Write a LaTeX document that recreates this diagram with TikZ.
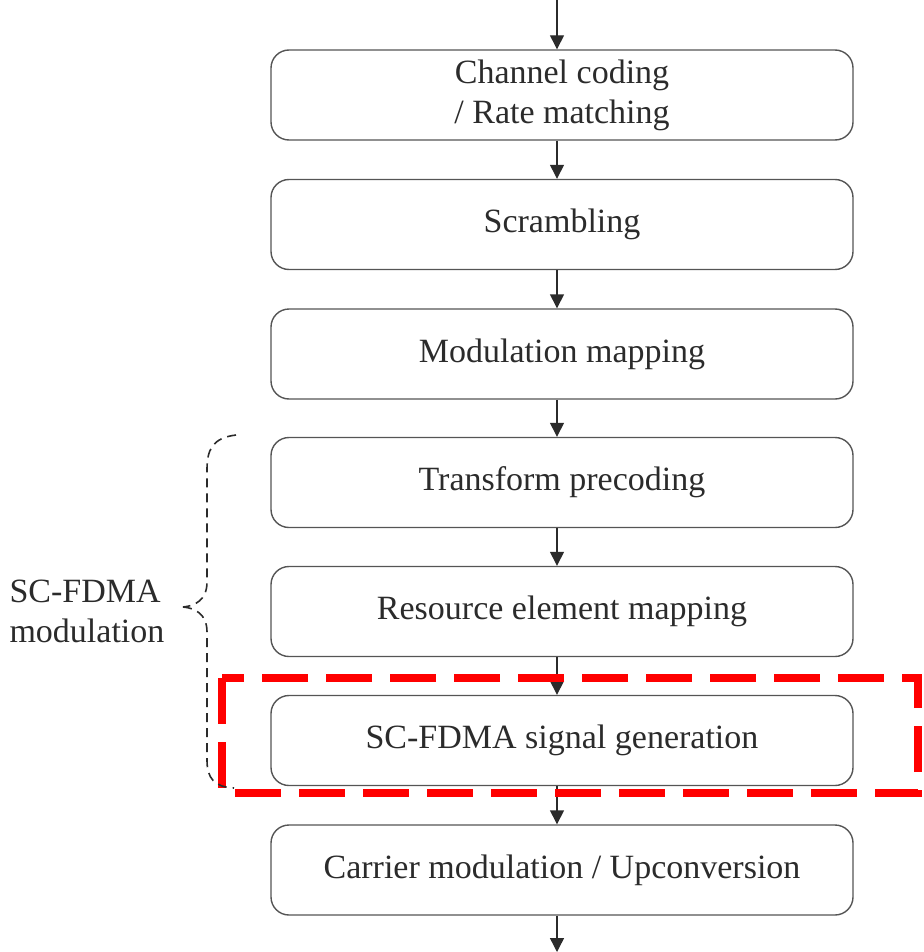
\documentclass[tikz,border=0pt]{standalone}
\usepackage{fontspec}
\setmainfont{Liberation Serif}
\usetikzlibrary{arrows.meta}
\definecolor{inkgray}{HTML}{2B2B2B}
\definecolor{framegray}{HTML}{555555}
\definecolor{hired}{HTML}{FF0000}
\begin{document}
\begin{tikzpicture}[x=1pt,y=-1pt,
  stage/.style={draw=framegray, line width=1.4pt, rounded corners=18pt,
    minimum width=582pt, minimum height=90pt, inner sep=0pt,
    align=center, text=inkgray, font=\fontsize{34}{40}\selectfont},
  flow/.style={draw=inkgray, line width=1.4pt,
    -{Triangle[length=14pt,width=14pt]}},
  brace/.style={draw=inkgray, line width=1.6pt, dash pattern=on 9pt off 6pt},
  focus/.style={draw=hired, line width=8pt, dash pattern=on 46pt off 18pt}]
\useasboundingbox (0,0) rectangle (923,952);

% processing chain
\node[stage] (s1) at (562,95)    {Channel coding\\/ Rate matching};
\node[stage] (s2) at (562,224.5) {Scrambling};
\node[stage] (s3) at (562,354)   {Modulation mapping};
\node[stage] (s4) at (562,482.5) {Transform precoding};
\node[stage] (s5) at (562,611.5) {Resource element mapping};
\node[stage] (s6) at (562,740.5) {SC-FDMA signal generation};
\node[stage] (s7) at (562,870)   {Carrier modulation / Upconversion};

% connectors along the chain
\coordinate (ax) at (557,0);
\coordinate (in)  at (557,0);
\coordinate (out) at (557,952);
\draw[flow] (in) -- (s1.north -| ax);
\draw[flow] (s1.south -| ax) -- (s2.north -| ax);
\draw[flow] (s2.south -| ax) -- (s3.north -| ax);
\draw[flow] (s3.south -| ax) -- (s4.north -| ax);
\draw[flow] (s4.south -| ax) -- (s5.north -| ax);
\draw[flow] (s5.south -| ax) -- (s6.north -| ax);
\draw[flow] (s6.south -| ax) -- (s7.north -| ax);
\draw[flow] (s7.south -| ax) -- (out);

% highlighted stage
\draw[focus] (222,678) rectangle (918,793);

% grouping brace
\coordinate (tip) at (183,607);
\draw[brace] (236,435) .. controls (212,438) and (207,450) .. (207,470)
  -- (207,582) .. controls (207,600) and (195,606) .. (tip);
\draw[brace] (tip) .. controls (195,608) and (207,614) .. (207,632)
  -- (207,760) .. controls (207,778) and (214,787) .. (234,788);

\node[anchor=west, align=left, text=inkgray,
  font=\fontsize{34}{40}\selectfont] (lbl) at (6,611) {SC-FDMA\\modulation};
\end{tikzpicture}
\end{document}
